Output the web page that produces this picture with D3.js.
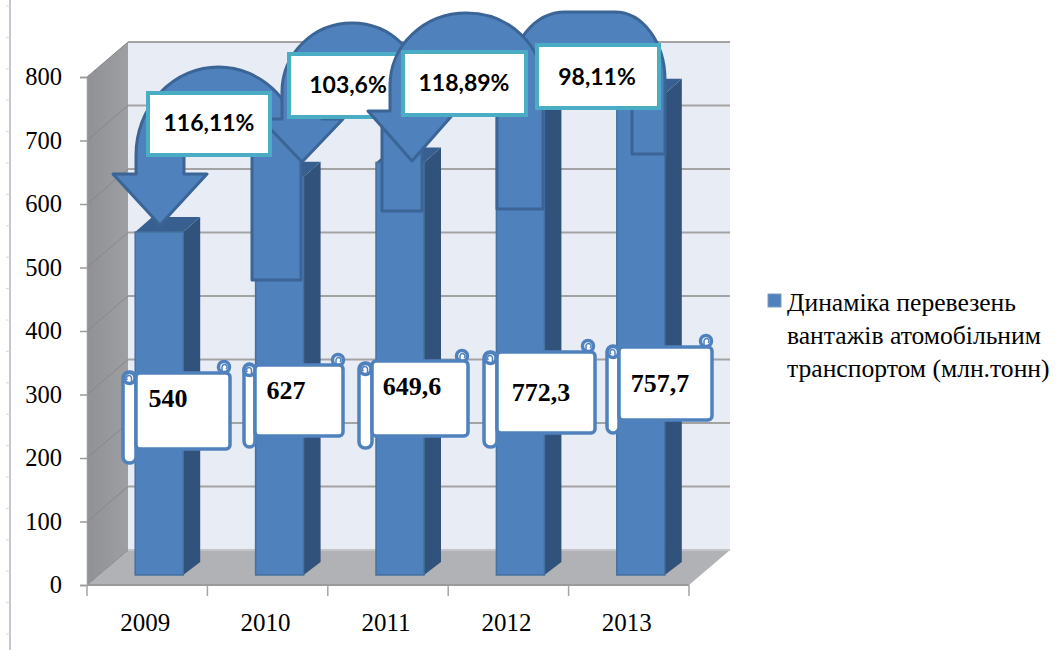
<!DOCTYPE html>
<html><head><meta charset="utf-8">
<script src="https://cdn.jsdelivr.net/npm/d3@7"></script>
<style>html,body{margin:0;padding:0;background:#fff;overflow:hidden}svg{display:block}</style>
</head><body><svg id="c" width="1063" height="650"></svg>
<script>
// ---- data ----
const years = ["2009","2010","2011","2012","2013"];
const freight = [540,627,649.6,772.3,757.7];
const valueLabels = ["540","627","649,6","772,3","757,7"];
const growthLabels = ["116,11%","103,6%","118,89%","98,11%"];
const yTicks = [0,100,200,300,400,500,600,700,800];
const legendLines = ["Динаміка перевезень","вантажів атомобільним","транспортом (млн.тонн)"];

// ---- layout of the hand-placed callouts (pixels, separate from the data) ----
const growthBoxes = [
 {x:148,y:93,w:122,h:62,tx:209,ty:123},
 {x:289,y:54,w:122,h:63,tx:348,ty:85},
 {x:403,y:52,w:123,h:63,tx:464,ty:83},
 {x:537,y:45,w:122,h:63,tx:597,ty:77}
];
const arrows = [
 {sl:136,sr:184,tl:252,tr:301,tb:280,peak:67,spring:155,hy:174,wl:113,wr:207,tx:160,ty:225,inner:150,iry:25},
 {sl:282,sr:322,tl:382,tr:422,tb:211,peak:23,spring:92,hy:119,wl:261,wr:343,tx:302,ty:162,inner:100,iry:25},
 {sl:390,sr:434,tl:497,tr:543,tb:209,peak:13,spring:85,hy:111,wl:368,wr:456,tx:412,ty:161,inner:100,iry:25}
];
const scrolls = [
 {rl:123,rr:136,rt:372,rb:463,x:136,r:230,t:373,b:449,cx:224,cy:367,tx:168,ty:398},
 {rl:244,rr:255,rt:364,rb:447,x:255,r:343,t:365,b:436,cx:338,cy:360,tx:286,ty:390},
 {rl:359,rr:372,rt:363,rb:448,x:372,r:468,t:361,b:436,cx:462,cy:356,tx:412,ty:386},
 {rl:484,rr:497,rt:352,rb:447,x:497,r:595,t:352,b:433,cx:588,cy:346,tx:541,ty:392},
 {rl:607,rr:619,rt:346,rb:433,x:619,r:712,t:347,b:420,cx:706,cy:341,tx:660,ty:383}
];

const BLUE="#4f81bd",EDGE="#3a6596",SIDE="#31527a",TOP="#375f8f",GRID="#a3a3a3",TEAL="#4bacc6";
const SERIF="'Liberation Serif','Times New Roman',serif";
const svg=d3.select("#c");

const x=d3.scaleBand().domain(years).range([87,689]);
const y=d3.scaleLinear().domain([0,800]).range([585,77]);
const DX=41,DY=-35;            // depth of the chart box
const barDX=17,barDY=-15;      // depth of a bar
const barBase=10;              // bars stand this far behind the front edge of the floor
const barW=48;
const barX=d=>x(d)+x.bandwidth()/2+12.5-barW/2-0.5;

// left ruler
svg.append("line").attr("x1",10).attr("x2",10).attr("y1",0).attr("y2",650).attr("stroke","#c3c7d3").attr("stroke-width",2);
svg.append("g").selectAll("line").data(d3.range(0,21)).join("line")
 .attr("x1",6).attr("x2",10).attr("y1",i=>6+i*31.4).attr("y2",i=>6+i*31.4)
 .attr("stroke","#d5d8e0").attr("stroke-width",1);

// walls and floor
const defs=svg.append("defs");
const gr=defs.append("linearGradient").attr("id","wall").attr("x1",0).attr("x2",1).attr("y1",0).attr("y2",0);
gr.append("stop").attr("offset",0).attr("stop-color","#8f9194");
gr.append("stop").attr("offset",1).attr("stop-color","#9d9fa2");
const poly=(pts)=>"M"+pts.map(p=>p.join(",")).join("L")+"Z";
const y0=y(0),yT=y(800),xL=x.range()[0],xR=x.range()[1];
svg.append("path").attr("d",poly([[xL+DX,yT+DY],[xR+DX,yT+DY],[xR+DX,y0+DY],[xL+DX,y0+DY]])).attr("fill","#e8ecf5");
svg.append("path").attr("d",poly([[xL,yT],[xL+DX,yT+DY],[xL+DX,y0+DY],[xL,y0]])).attr("fill","url(#wall)");
svg.append("path").attr("d",poly([[xL,y0],[xL+DX,y0+DY],[xR+DX,y0+DY],[xR,y0]])).attr("fill","#b0b2b5");

// grid
const grid=svg.append("g");
grid.selectAll("line.b").data(yTicks).join("line").attr("class","b")
 .attr("x1",xL+DX).attr("x2",xR+DX).attr("y1",d=>y(d)+DY).attr("y2",d=>y(d)+DY)
 .attr("stroke",d=>d===0?"#c4c5c8":GRID).attr("stroke-width",2);
grid.selectAll("line.s").data(yTicks).join("line").attr("class","s")
 .attr("x1",xL).attr("x2",xL+DX).attr("y1",d=>y(d)).attr("y2",d=>y(d)+DY)
 .attr("stroke","#85878a").attr("stroke-width",1);

// axes
const yAxis=svg.append("g").attr("transform",`translate(${xL},0)`).call(d3.axisLeft(y).tickValues(yTicks).tickSize(7).tickPadding(18));
yAxis.select(".domain").attr("stroke","#9a9a9a").attr("stroke-width",1.5);
yAxis.selectAll("line").attr("stroke","#9a9a9a").attr("stroke-width",1.5);
yAxis.selectAll("text").attr("font-family",SERIF).attr("font-size",24.5).attr("fill","#000");

svg.append("line").attr("x1",xL).attr("x2",xR).attr("y1",y0).attr("y2",y0).attr("stroke","#9a9a9a").attr("stroke-width",2);
svg.append("g").selectAll("line").data(years.concat(["end"])).join("line")
 .attr("x1",(d,i)=>xL+i*x.step()).attr("x2",(d,i)=>xL+i*x.step())
 .attr("y1",y0).attr("y2",y0+11).attr("stroke","#a5a5a5").attr("stroke-width",1.5);
svg.append("g").selectAll("text").data(years).join("text")
 .attr("x",d=>x(d)+x.bandwidth()/2-2).attr("y",622).attr("dy","0.35em").attr("text-anchor","middle")
 .attr("font-family",SERIF).attr("font-size",25).attr("fill","#000").text(d=>d);

// bars
const base=y0-barBase;
const h=d=>y0-y(d);
const bars=svg.append("g").selectAll("g").data(years.map((yr,i)=>({yr,v:freight[i]}))).join("g");
bars.append("path").attr("fill",SIDE).attr("d",d=>{const X=barX(d.yr)+barW,t=base-h(d.v);
 return poly([[X,base],[X+barDX,base+barDY+2],[X+barDX,t+barDY],[X,t]]);});
bars.append("path").attr("fill",TOP).attr("d",d=>{const X=barX(d.yr),t=base-h(d.v);
 return poly([[X,t],[X+barW,t],[X+barW+barDX,t+barDY],[X+barDX,t+barDY]]);});
bars.append("rect").attr("fill",BLUE).attr("stroke","#44719f").attr("stroke-width",1.5)
 .attr("x",d=>barX(d.yr)).attr("y",d=>base-h(d.v)).attr("width",barW).attr("height",d=>h(d.v));

// callouts
function arrowPath(a){
 const rx=(a.tr-a.sl)/2, ry=a.spring-a.peak, irx=(a.tl-a.sr)/2;
 return `M${a.tr},${a.tb}L${a.tr},${a.spring}A${rx},${ry} 0 0 0 ${a.sl},${a.spring}L${a.sl},${a.hy}L${a.wl},${a.hy}L${a.tx},${a.ty}L${a.wr},${a.hy}L${a.sr},${a.hy}L${a.sr},${a.inner}A${irx},${a.iry} 0 0 1 ${a.tl},${a.inner}L${a.tl},${a.tb}Z`;
}
const layer=svg.append("g");
const drawArrow=a=>layer.append("path").attr("d",arrowPath(a)).attr("fill",BLUE).attr("stroke",EDGE).attr("stroke-width",3).attr("stroke-linejoin","round");
const drawBox=i=>{const b=growthBoxes[i];
 layer.append("rect").attr("x",b.x).attr("y",b.y).attr("width",b.w).attr("height",b.h).attr("fill","#fff").attr("stroke",TEAL).attr("stroke-width",4);
 layer.append("text").attr("x",b.tx).attr("y",b.ty).attr("dy","0.35em").attr("text-anchor","middle")
  .attr("font-family","Lato,Carlito,sans-serif").attr("font-weight",700).attr("font-size",23).attr("fill","#000").text(growthLabels[i]);};

drawArrow(arrows[0]);
drawArrow(arrows[1]);
drawBox(0);drawBox(1);
// fourth arrow: flat dome ending on the 2013 bar
layer.append("path").attr("d","M665,154L665,80A50,68 0 0 0 615,12L565,12A55,68 0 0 0 510,80L510,100L632,100L632,154Z")
 .attr("fill",BLUE).attr("stroke",EDGE).attr("stroke-width",3).attr("stroke-linejoin","round");
drawArrow(arrows[2]);
drawBox(2);drawBox(3);

// scroll labels
const SC="#4f81bd";
const sg=svg.append("g").selectAll("g").data(scrolls).join("g");
sg.append("rect").attr("x",d=>d.rl).attr("y",d=>d.rt).attr("width",d=>d.rr-d.rl).attr("height",d=>d.rb-d.rt)
 .attr("rx",6).attr("fill","#fff").attr("stroke",SC).attr("stroke-width",3.5);
sg.append("circle").attr("cx",d=>(d.rl+d.rr)/2).attr("cy",d=>d.rt+6).attr("r",5.5).attr("fill","#fff").attr("stroke",SC).attr("stroke-width",3.5);
sg.append("circle").attr("cx",d=>d.cx).attr("cy",d=>d.cy).attr("r",5.5).attr("fill","#fff").attr("stroke",SC).attr("stroke-width",3.5);
sg.append("rect").attr("x",d=>d.x).attr("y",d=>d.t).attr("width",d=>d.r-d.x).attr("height",d=>d.b-d.t)
 .attr("rx",4).attr("fill","#fff").attr("stroke",SC).attr("stroke-width",3.5);
sg.append("path").attr("d",d=>`M${d.cx-2},${d.cy+6}L${d.cx-2},${d.cy}A2.5,2.5 0 1 1 ${d.cx+2},${d.cy+2}`).attr("fill","none").attr("stroke",SC).attr("stroke-width",1.5);
sg.append("path").attr("d",d=>{const c=(d.rl+d.rr)/2;return `M${c+2},${d.rt+11}L${c+2},${d.rt+6}A2.5,2.5 0 1 0 ${c-2},${d.rt+8}`;}).attr("fill","none").attr("stroke",SC).attr("stroke-width",1.5);
sg.append("text").attr("x",d=>d.tx).attr("y",d=>d.ty).attr("dy","0.35em").attr("text-anchor","middle")
 .attr("font-family",SERIF).attr("font-weight",700).attr("font-size",26).attr("fill","#000").text((d,i)=>valueLabels[i]);

// legend
svg.append("rect").attr("x",768).attr("y",294).attr("width",13).attr("height",13).attr("fill",BLUE).attr("stroke","#7f9cc0").attr("stroke-width",1);
svg.append("g").selectAll("text").data(legendLines).join("text")
 .attr("x",787).attr("y",(d,i)=>302+i*33).attr("dy","0.35em")
 .attr("font-family",SERIF).attr("font-size",25.6).attr("fill","#000").text(d=>d);
</script></body></html>
